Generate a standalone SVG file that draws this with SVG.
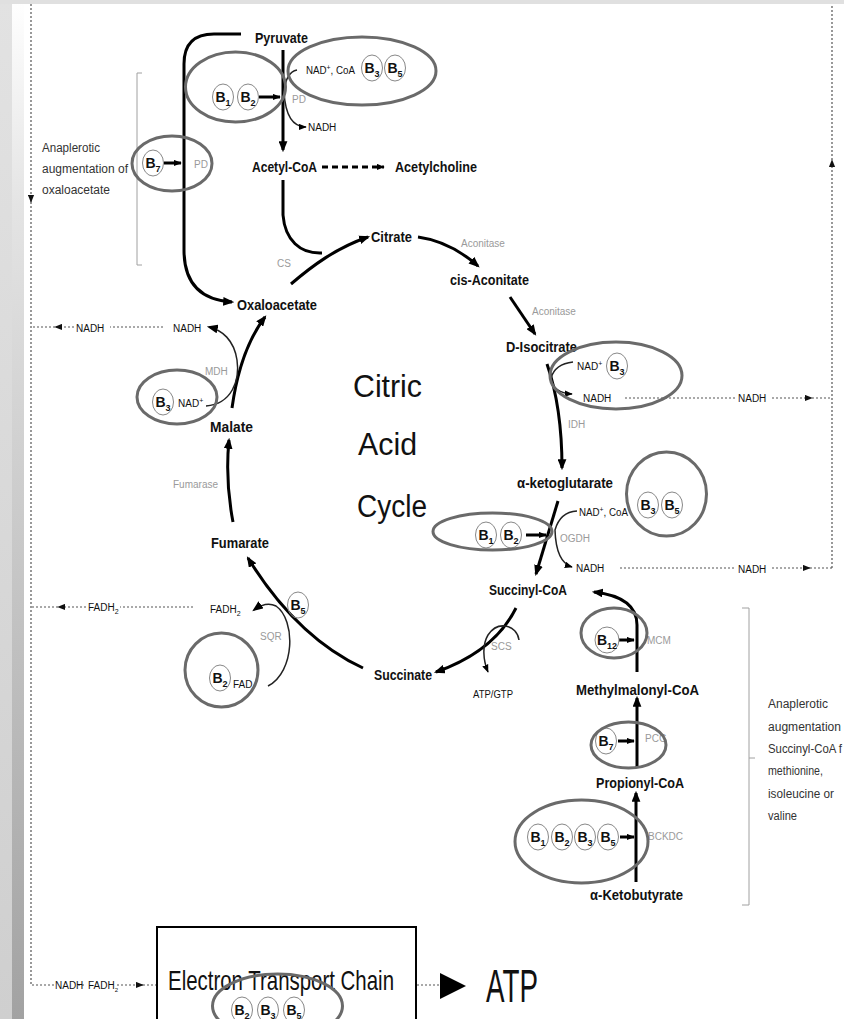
<svg xmlns="http://www.w3.org/2000/svg" width="844" height="1019" viewBox="0 0 844 1019">
  <style>
    text { font-family: "Liberation Sans", Arial, sans-serif; }
    .n { font-size: 14px; font-weight: bold; fill: #111; }
    .enz { font-size: 10px; fill: #9a9a9a; }
    .cof { font-size: 10px; fill: #111; }
    .lbl { font-size: 12px; fill: #333; }
    .big { font-size: 31px; fill: #111; }
    .ring { fill: none; stroke: #6a6a6a; stroke-width: 3; }
    .vc { fill: none; stroke: #888; stroke-width: 1; }
    .vt { font-size: 14px; font-weight: bold; fill: #111; text-anchor: middle; }
    .flow { fill: none; stroke: #000; stroke-width: 3; }
    .side { fill: none; stroke: #222; stroke-width: 1.5; }
    .dot { fill: none; stroke: #555; stroke-width: 1.2; stroke-dasharray: 2 2; }
    .brk { fill: none; stroke: #a0a0a0; stroke-width: 1; }
  </style>
  <defs>
    <linearGradient id="edge" x1="0" y1="0" x2="0" y2="1">
      <stop offset="0" stop-color="#e2e2e2"/>
      <stop offset="1" stop-color="#cfcfcf"/>
    </linearGradient>
    <linearGradient id="edge2" x1="0" y1="0" x2="0" y2="1">
      <stop offset="0" stop-color="#ffffff"/>
      <stop offset="0.2" stop-color="#e4e4e4"/>
      <stop offset="1" stop-color="#a2a2a2"/>
    </linearGradient>
    <marker id="ah" viewBox="0 0 10 8" refX="8" refY="4" markerWidth="11" markerHeight="9" markerUnits="userSpaceOnUse" orient="auto">
      <path d="M0,0L10,4L0,8z" fill="#000"/>
    </marker>
    <marker id="ahs" viewBox="0 0 10 8" refX="9" refY="4" markerWidth="8" markerHeight="7" markerUnits="userSpaceOnUse" orient="auto">
      <path d="M0,0L10,4L0,8z" fill="#000"/>
    </marker>
    <marker id="ahd" viewBox="0 0 10 8" refX="9" refY="4" markerWidth="8" markerHeight="7" markerUnits="userSpaceOnUse" orient="auto">
      <path d="M0,0L10,4L0,8z" fill="#111"/>
    </marker>
  </defs>

  <!-- page background and frame edges -->
  <rect width="844" height="1019" fill="#fff"/>
  <rect x="0" y="0" width="12" height="1019" fill="url(#edge)"/>
  <rect x="12" y="0" width="12" height="1019" fill="url(#edge2)"/>
  <rect x="0" y="0" width="844" height="4" fill="#e0e0e0"/>

  <!-- connectors -->
  <g id="connectors">
    <!-- pyruvate dehydrogenase -->
    <path class="flow" d="M283,50 V150" marker-end="url(#ah)"/>
    <path class="side" d="M297,70 Q286,72 284,92 Q286,127 306,127" marker-end="url(#ahs)"/>
    <!-- pyruvate carboxylase bypass to oxaloacetate -->
    <path class="flow" d="M241,34 H214 Q184,34 184,64 V250 C184,282 200,300 232,302" marker-end="url(#ah)"/>
    <path class="flow" d="M322,167 H384" stroke-width="2" stroke-dasharray="6 4" marker-end="url(#ahs)"/>
    <!-- citrate synthase -->
    <path class="flow" d="M283,180 V215 C285,240 300,254 322,253"/>
    <path class="flow" d="M291,284 C312,266 336,248 368,237" marker-end="url(#ah)"/>
    <!-- aconitase -->
    <path class="flow" d="M418,237 C440,240 460,250 478,266" marker-end="url(#ah)"/>
    <path class="flow" d="M510,297 L535,334" marker-end="url(#ah)"/>
    <!-- isocitrate dehydrogenase -->
    <path class="flow" d="M547,364 C556,390 562,420 562,468" marker-end="url(#ah)"/>
    <path class="side" d="M573,362 Q555,364 551,378 Q553,393 572,394" marker-end="url(#ahs)"/>
    <!-- oxoglutarate dehydrogenase -->
    <path class="flow" d="M558,501 L536,574" marker-end="url(#ah)"/>
    <path class="side" d="M577,511 Q560,512 555,530 Q556,562 572,567" marker-end="url(#ahs)"/>
    <path class="flow" d="M526,535 H546" stroke-width="2" marker-end="url(#ahs)"/>
    <!-- succinyl-CoA synthetase -->
    <path class="flow" d="M516,608 C500,640 470,660 436,672" marker-end="url(#ah)"/>
    <path class="side" d="M519,640 C517,625 498,620 488,635 C482,645 483,660 488,672" marker-end="url(#ahs)"/>
    <!-- succinate dehydrogenase -->
    <path class="flow" d="M363,668 C320,648 280,610 248,558" marker-end="url(#ah)"/>
    <path class="side" d="M268,686 C295,672 296,620 276,606 Q266,601 254,610" marker-end="url(#ah)"/>
    <!-- fumarase -->
    <path class="flow" d="M233,522 Q225,480 229,440" marker-end="url(#ah)"/>
    <!-- malate dehydrogenase -->
    <path class="flow" d="M232,408 Q240,350 265,317" marker-end="url(#ah)"/>
    <path class="side" d="M206,406 C232,404 240,380 237,360 C234,340 222,330 209,327" marker-end="url(#ah)"/>
    <!-- cofactor arrows -->
    <path class="flow" d="M259,97 H280" stroke-width="2" marker-end="url(#ahs)"/>
    <path class="flow" d="M164,163 H181" stroke-width="2" marker-end="url(#ahs)"/>
    <path class="flow" d="M619,640 H634" stroke-width="2" marker-end="url(#ahs)"/>
    <path class="flow" d="M618,741 H634" stroke-width="2" marker-end="url(#ahs)"/>
    <path class="flow" d="M620,837 H634" stroke-width="2" marker-end="url(#ahs)"/>
    <!-- propionyl-CoA route -->
    <path class="flow" d="M637,672 V625 C637,605 620,595 594,592" marker-end="url(#ah)"/>
    <path class="flow" d="M637,768 V698" marker-end="url(#ah)"/>
    <path class="flow" d="M636,882 V793" marker-end="url(#ah)"/>

    <!-- reducing equivalents to the respiratory chain -->
    <path class="dot" d="M31,4 V202" marker-end="url(#ahd)"/>
    <path class="dot" d="M31,202 V985 H54"/>
    <path class="dot" d="M78,985 H86"/>
    <path class="dot" d="M117,985 H143" marker-end="url(#ahd)"/>
    <path class="dot" d="M143,985 H157"/>
    <path class="dot" d="M163,327 H110"/>
    <path class="dot" d="M74,327 H55" marker-end="url(#ahd)"/>
    <path class="dot" d="M55,327 H31"/>
    <path class="dot" d="M193,607 H120"/>
    <path class="dot" d="M86,607 H58" marker-end="url(#ahd)"/>
    <path class="dot" d="M58,607 H31"/>
    <path class="dot" d="M625,398 H735"/>
    <path class="dot" d="M772,398 H812" marker-end="url(#ahd)"/>
    <path class="dot" d="M812,398 H832"/>
    <path class="dot" d="M620,568 H735"/>
    <path class="dot" d="M772,568 H810" marker-end="url(#ahd)"/>
    <path class="dot" d="M810,568 H832"/>
    <path class="dot" d="M832,568 V160" marker-end="url(#ahd)"/>
    <path class="dot" d="M832,160 V4"/>
    <path class="dot" d="M417,985 H440"/>
    <polygon points="440,973 466,986 440,999" fill="#000"/>

    <!-- brackets -->
    <path class="brk" d="M142,73 H137 V265 H142"/>
    <path class="brk" d="M742,608 H749 V905 H742 M749,758 H755"/>
  </g>

  <!-- metabolites -->
  <g id="pyruvate"><text class="n" x="255" y="43" textLength="53" lengthAdjust="spacingAndGlyphs">Pyruvate</text></g>
  <g id="acetyl-coa"><text class="n" x="252" y="172" textLength="65" lengthAdjust="spacingAndGlyphs">Acetyl-CoA</text></g>
  <g id="acetylcholine"><text class="n" x="395" y="172" textLength="82" lengthAdjust="spacingAndGlyphs">Acetylcholine</text></g>
  <g id="citrate"><text class="n" x="371" y="242" textLength="41" lengthAdjust="spacingAndGlyphs">Citrate</text></g>
  <g id="cis-aconitate"><text class="n" x="450" y="285" textLength="79" lengthAdjust="spacingAndGlyphs">cis-Aconitate</text></g>
  <g id="isocitrate"><text class="n" x="506" y="352" textLength="71" lengthAdjust="spacingAndGlyphs">D-Isocitrate</text></g>
  <g id="ketoglutarate"><text class="n" x="517" y="488" textLength="96" lengthAdjust="spacingAndGlyphs">α-ketoglutarate</text></g>
  <g id="succinyl-coa"><text class="n" x="489" y="595" textLength="78" lengthAdjust="spacingAndGlyphs">Succinyl-CoA</text></g>
  <g id="succinate"><text class="n" x="374" y="680" textLength="58" lengthAdjust="spacingAndGlyphs">Succinate</text></g>
  <g id="fumarate"><text class="n" x="211" y="548" textLength="58" lengthAdjust="spacingAndGlyphs">Fumarate</text></g>
  <g id="malate"><text class="n" x="210" y="432" textLength="43" lengthAdjust="spacingAndGlyphs">Malate</text></g>
  <g id="oxaloacetate"><text class="n" x="237" y="310" textLength="80" lengthAdjust="spacingAndGlyphs">Oxaloacetate</text></g>
  <g id="methylmalonyl-coa"><text class="n" x="576" y="695" textLength="123" lengthAdjust="spacingAndGlyphs">Methylmalonyl-CoA</text></g>
  <g id="propionyl-coa"><text class="n" x="596" y="788" textLength="88" lengthAdjust="spacingAndGlyphs">Propionyl-CoA</text></g>
  <g id="ketobutyrate"><text class="n" x="590" y="900" textLength="93" lengthAdjust="spacingAndGlyphs">α-Ketobutyrate</text></g>

  <!-- cycle title -->
  <g id="title">
    <text class="big" x="353" y="397" textLength="69" lengthAdjust="spacingAndGlyphs">Citric</text>
    <text class="big" x="358" y="455" textLength="59" lengthAdjust="spacingAndGlyphs">Acid</text>
    <text class="big" x="357" y="517" textLength="70" lengthAdjust="spacingAndGlyphs">Cycle</text>
  </g>

  <!-- enzymes -->
  <g id="enzymes">
    <text class="enz" x="292" y="103">PD</text>
    <text class="enz" x="194" y="168">PD</text>
    <text class="enz" x="277" y="267">CS</text>
    <text class="enz" x="461" y="247">Aconitase</text>
    <text class="enz" x="532" y="315">Aconitase</text>
    <text class="enz" x="568" y="428">IDH</text>
    <text class="enz" x="560" y="542">OGDH</text>
    <text class="enz" x="491" y="650">SCS</text>
    <text class="enz" x="260" y="640">SQR</text>
    <text class="enz" x="173" y="488">Fumarase</text>
    <text class="enz" x="205" y="375">MDH</text>
    <text class="enz" x="647" y="644">MCM</text>
    <text class="enz" x="645" y="742">PCC</text>
    <text class="enz" x="648" y="840">BCKDC</text>
  </g>

  <!-- cofactors and products -->
  <g id="cofactors">
    <text class="cof" x="306" y="74" textLength="49" lengthAdjust="spacingAndGlyphs">NAD<tspan dy="-4" font-size="7">+</tspan><tspan dy="4">, CoA</tspan></text>
    <text class="cof" x="308" y="131">NADH</text>
    <text class="cof" x="577" y="370">NAD<tspan dy="-4" font-size="7">+</tspan></text>
    <text class="cof" x="583" y="402">NADH</text>
    <text class="cof" x="579" y="516" textLength="49" lengthAdjust="spacingAndGlyphs">NAD<tspan dy="-4" font-size="7">+</tspan><tspan dy="4">, CoA</tspan></text>
    <text class="cof" x="576" y="572">NADH</text>
    <text class="cof" x="473" y="698" textLength="40" lengthAdjust="spacingAndGlyphs">ATP/GTP</text>
    <text class="cof" x="210" y="613">FADH<tspan dy="3" font-size="7">2</tspan></text>
    <text class="cof" x="233" y="688">FAD</text>
    <text class="cof" x="178" y="407">NAD<tspan dy="-4" font-size="7">+</tspan></text>
    <text class="cof" x="173" y="332">NADH</text>
    <text class="cof" x="76" y="332">NADH</text>
    <text class="cof" x="88" y="611">FADH<tspan dy="3" font-size="7">2</tspan></text>
    <text class="cof" x="738" y="402">NADH</text>
    <text class="cof" x="738" y="573">NADH</text>
    <text class="cof" x="55" y="989" font-size="8">NADH</text>
    <text class="cof" x="88" y="989" font-size="8.5">FADH<tspan dy="3" font-size="6">2</tspan></text>
  </g>

  <!-- vitamin B cofactors -->
  <g id="vit-pd-b1b2">
    <ellipse class="vc" cx="223" cy="97" rx="10.5" ry="13"/><text class="vt" x="223" y="102">B<tspan dy="4" font-size="9">1</tspan></text>
    <ellipse class="vc" cx="248" cy="97" rx="10.5" ry="13"/><text class="vt" x="248" y="102">B<tspan dy="4" font-size="9">2</tspan></text>
    <ellipse class="ring" cx="235.5" cy="87" rx="50" ry="35"/>
  </g>
  <g id="vit-pd-b3b5">
    <ellipse class="vc" cx="372" cy="68" rx="10.5" ry="13"/><text class="vt" x="372" y="73">B<tspan dy="4" font-size="9">3</tspan></text>
    <ellipse class="vc" cx="395" cy="68" rx="10.5" ry="13"/><text class="vt" x="395" y="73">B<tspan dy="4" font-size="9">5</tspan></text>
    <ellipse class="ring" cx="362" cy="71" rx="74" ry="34"/>
  </g>
  <g id="vit-pc-b7">
    <ellipse class="vc" cx="153" cy="163" rx="10.5" ry="13"/><text class="vt" x="153" y="168">B<tspan dy="4" font-size="9">7</tspan></text>
    <ellipse class="ring" cx="172" cy="163.5" rx="40" ry="27.5"/>
  </g>
  <g id="vit-idh-b3">
    <ellipse class="vc" cx="617" cy="366" rx="10.5" ry="13"/><text class="vt" x="617" y="371">B<tspan dy="4" font-size="9">3</tspan></text>
    <ellipse class="ring" cx="616" cy="375.5" rx="66" ry="33.5"/>
  </g>
  <g id="vit-ogdh-b1b2">
    <ellipse class="vc" cx="486" cy="535" rx="10.5" ry="13"/><text class="vt" x="486" y="540">B<tspan dy="4" font-size="9">1</tspan></text>
    <ellipse class="vc" cx="511" cy="535" rx="10.5" ry="13"/><text class="vt" x="511" y="540">B<tspan dy="4" font-size="9">2</tspan></text>
    <ellipse class="ring" cx="492.5" cy="531.5" rx="59.5" ry="18.5"/>
  </g>
  <g id="vit-ogdh-b3b5">
    <ellipse class="vc" cx="648" cy="505" rx="10.5" ry="13"/><text class="vt" x="648" y="510">B<tspan dy="4" font-size="9">3</tspan></text>
    <ellipse class="vc" cx="672" cy="505" rx="10.5" ry="13"/><text class="vt" x="672" y="510">B<tspan dy="4" font-size="9">5</tspan></text>
    <ellipse class="ring" cx="666.5" cy="494" rx="40" ry="42"/>
  </g>
  <g id="vit-scs-b5">
    <ellipse class="vc" cx="298" cy="605" rx="10.5" ry="13"/><text class="vt" x="298" y="610">B<tspan dy="4" font-size="9">5</tspan></text>
  </g>
  <g id="vit-sqr-b2">
    <ellipse class="vc" cx="220" cy="678" rx="10.5" ry="13"/><text class="vt" x="220" y="683">B<tspan dy="4" font-size="9">2</tspan></text>
    <ellipse class="ring" cx="221.5" cy="670" rx="36.5" ry="37"/>
  </g>
  <g id="vit-mdh-b3">
    <ellipse class="vc" cx="163" cy="402" rx="10.5" ry="13"/><text class="vt" x="163" y="407">B<tspan dy="4" font-size="9">3</tspan></text>
    <ellipse class="ring" cx="177" cy="397" rx="40" ry="27"/>
  </g>
  <g id="vit-mcm-b12">
    <ellipse class="vc" cx="607" cy="640" rx="12" ry="13"/><text class="vt" x="607" y="645">B<tspan dy="4" font-size="9">12</tspan></text>
    <ellipse class="ring" cx="614" cy="633" rx="33" ry="25"/>
  </g>
  <g id="vit-pcc-b7">
    <ellipse class="vc" cx="606" cy="741" rx="10.5" ry="13"/><text class="vt" x="606" y="746">B<tspan dy="4" font-size="9">7</tspan></text>
    <ellipse class="ring" cx="628.5" cy="745" rx="37.5" ry="23"/>
  </g>
  <g id="vit-bckdc">
    <ellipse class="vc" cx="538" cy="837" rx="10.5" ry="13"/><text class="vt" x="538" y="842">B<tspan dy="4" font-size="9">1</tspan></text>
    <ellipse class="vc" cx="562" cy="837" rx="10.5" ry="13"/><text class="vt" x="562" y="842">B<tspan dy="4" font-size="9">2</tspan></text>
    <ellipse class="vc" cx="585" cy="837" rx="10.5" ry="13"/><text class="vt" x="585" y="842">B<tspan dy="4" font-size="9">3</tspan></text>
    <ellipse class="vc" cx="608" cy="837" rx="10.5" ry="13"/><text class="vt" x="608" y="842">B<tspan dy="4" font-size="9">5</tspan></text>
    <ellipse class="ring" cx="581.5" cy="841.5" rx="66.5" ry="41.5"/>
  </g>

  <!-- side notes -->
  <g id="note-oxaloacetate">
    <text class="lbl" x="42" y="152" textLength="58" lengthAdjust="spacingAndGlyphs">Anaplerotic</text>
    <text class="lbl" x="42" y="173" textLength="86" lengthAdjust="spacingAndGlyphs">augmentation of</text>
    <text class="lbl" x="42" y="194" textLength="68" lengthAdjust="spacingAndGlyphs">oxaloacetate</text>
  </g>
  <g id="note-succinyl">
    <text class="lbl" x="768" y="708" textLength="60" lengthAdjust="spacingAndGlyphs">Anaplerotic</text>
    <text class="lbl" x="768" y="731" textLength="73" lengthAdjust="spacingAndGlyphs">augmentation</text>
    <text class="lbl" x="768" y="753" textLength="74" lengthAdjust="spacingAndGlyphs">Succinyl-CoA f</text>
    <text class="lbl" x="768" y="775" textLength="55" lengthAdjust="spacingAndGlyphs">methionine,</text>
    <text class="lbl" x="768" y="798" textLength="66" lengthAdjust="spacingAndGlyphs">isoleucine or</text>
    <text class="lbl" x="768" y="820" textLength="29" lengthAdjust="spacingAndGlyphs">valine</text>
  </g>

  <!-- respiratory chain -->
  <g id="etc">
    <rect x="157" y="927" width="259" height="100" fill="none" stroke="#000" stroke-width="2"/>
    <text x="168" y="990" font-size="28" fill="#111" textLength="226" lengthAdjust="spacingAndGlyphs">Electron Transport Chain</text>
    <ellipse class="vc" cx="242" cy="1010" rx="10.5" ry="13"/><text class="vt" x="242" y="1015">B<tspan dy="4" font-size="9">2</tspan></text>
    <ellipse class="vc" cx="268" cy="1010" rx="10.5" ry="13"/><text class="vt" x="268" y="1015">B<tspan dy="4" font-size="9">3</tspan></text>
    <ellipse class="vc" cx="294" cy="1010" rx="10.5" ry="13"/><text class="vt" x="294" y="1015">B<tspan dy="4" font-size="9">5</tspan></text>
    <ellipse class="ring" cx="277.5" cy="1006" rx="65" ry="32"/>
  </g>
  <g id="atp"><text x="486" y="1002" font-size="46" fill="#111" textLength="52" lengthAdjust="spacingAndGlyphs">ATP</text></g>
</svg>
